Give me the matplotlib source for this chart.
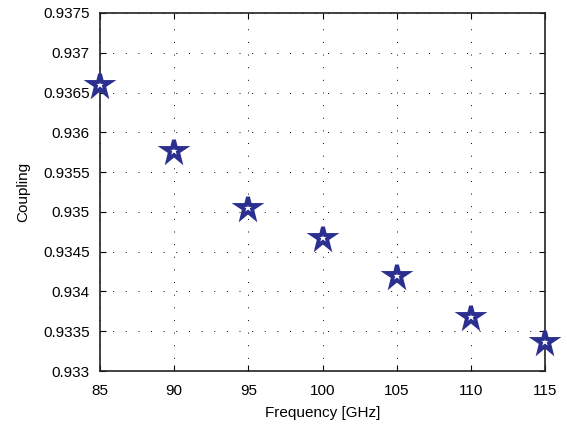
import matplotlib
matplotlib.use("Agg")
import matplotlib.pyplot as plt
from matplotlib.markers import MarkerStyle

# coupling vs. frequency sweep
freq_ghz = [85, 90, 95, 100, 105, 110, 115]
coupling = [0.93660, 0.93576, 0.93505, 0.93467, 0.93419, 0.93368, 0.93336]

x_ticks = [85, 90, 95, 100, 105, 110, 115]
y_ticks = [0.933, 0.9335, 0.934, 0.9345, 0.935, 0.9355, 0.936, 0.9365, 0.937, 0.9375]
y_labels = ["0.933", "0.9335", "0.934", "0.9345", "0.935", "0.9355",
            "0.936", "0.9365", "0.937", "0.9375"]

plt.rcParams["font.family"] = ["Liberation Sans", "DejaVu Sans"]
plt.rcParams["font.size"] = 11

fig = plt.figure(figsize=(5.67, 4.30), dpi=100)
ax = fig.add_axes([0.1764, 0.1372, 0.9612 - 0.1764, 0.9698 - 0.1372])

star = MarkerStyle("*", joinstyle="miter")
ax.plot(freq_ghz, coupling, linestyle="none", marker=star, markersize=15.5,
        markerfacecolor="white", markeredgecolor="#2b2f8f",
        markeredgewidth=2.8, clip_on=False, zorder=5)

ax.set_xlim(85, 115)
ax.set_ylim(0.933, 0.9375)
ax.set_xticks(x_ticks)
ax.set_yticks(y_ticks)
ax.set_yticklabels(y_labels)

ax.grid(True, color="black", linestyle=(0, (1, 12)), linewidth=0.7)
ax.tick_params(direction="in", length=4, width=0.8, top=True, right=True,
               labelsize=11, colors="black")
ax.tick_params(axis="x", pad=9)
ax.tick_params(axis="y", pad=7.5)
for sp in ax.spines.values():
    sp.set_linewidth(1.2)
    sp.set_color("#222222")

ax.set_xlabel("Frequency [GHz]", fontsize=11, labelpad=6)
ax.set_ylabel("Coupling", fontsize=11, labelpad=9)

fig.savefig("out.png", dpi=100)
